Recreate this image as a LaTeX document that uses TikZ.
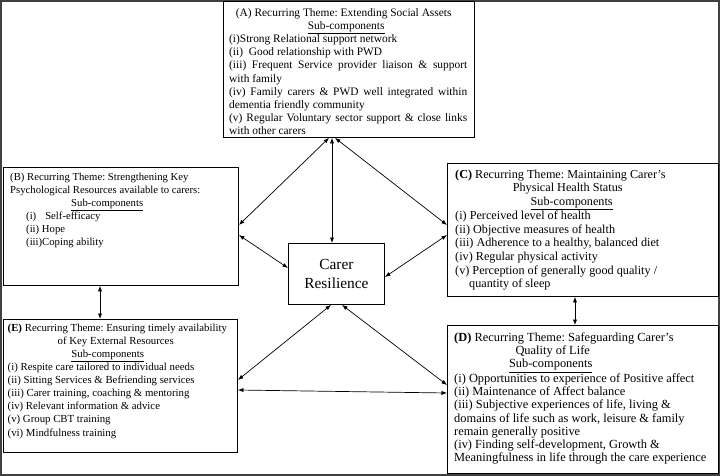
\documentclass[tikz,border=0pt]{standalone}
\usepackage{fontspec}
\setmainfont{Liberation Serif}
\usetikzlibrary{arrows.meta,calc}

\frenchspacing
\newcommand\subc{\underline{Sub-components}}
\newcommand\fullline[1]{\makebox[238pt][s]{#1}}
\newcommand\topline{\rule{0pt}{10pt}}

\tikzset{
  panel/.style={draw, line width=0.9pt, anchor=north west, inner sep=0pt},
  paneltext/.style={anchor=north west, inner sep=0pt, align=left},
  link/.style={line width=0.7pt, {Latex[length=5.5pt,width=4.2pt]}-{Latex[length=5.5pt,width=4.2pt]}}
}

\begin{document}
\begin{tikzpicture}[x=1pt, y=-1pt]

  \useasboundingbox (0,0) rectangle (720,476);
  \draw[line width=1.2pt, black!75] (1,1) rectangle (719,475); %% frame

  %% boxes
  \node[panel, minimum width=251pt, minimum height=136pt] (A) at (223,1) {};
  \node[panel, minimum width=235pt, minimum height=118pt] (B) at (3,167) {};
  \node[panel, minimum width=271pt, minimum height=133pt] (C) at (447,163) {};
  \node[panel, minimum width=271pt, minimum height=148pt] (D) at (447,325) {};
  \node[panel, minimum width=234pt, minimum height=133pt] (E) at (3,319) {};
  \node[panel, minimum width=96pt, minimum height=61pt, align=center,
    font=\fontsize{15.4}{19}\selectfont] (R) at (288,243) {Carer\\Resilience};

  %% box texts (first baseline 10pt below the anchor)
  \node[paneltext, font=\fontsize{11.4}{13.2}\selectfont] (Atext) at ($(A.north west)+(6,5)$)
  {\topline\makebox[229pt]{(A) Recurring Theme: Extending Social Assets}\\
   \makebox[234pt]{\subc}\\
   (i)Strong Relational support network\\
   (ii)\ \ Good relationship with PWD\\
   \fullline{(iii) Frequent Service provider liaison \& support}\\
   with family\\
   \fullline{(iv) Family carers \& PWD well integrated within}\\
   dementia friendly community\\
   \fullline{(v) Regular Voluntary sector support \& close links}\\
   with other carers};

  \node[paneltext, font=\fontsize{10.7}{13.1}\selectfont] (Btext) at ($(B.north west)+(7,3)$)
  {\topline(B) Recurring Theme: Strengthening Key\\
   Psychological Resources available to carers:\\
   \makebox[194pt]{\subc}\\
   \hspace*{16pt}(i)\hspace{9pt}Self-efficacy\\
   \hspace*{16pt}(ii) Hope\\
   \hspace*{16pt}(iii)Coping ability};

  \node[paneltext, font=\fontsize{12.2}{13.7}\selectfont] (Ctext) at ($(C.north west)+(8,5)$)
  {\topline\textbf{(C)} Recurring Theme: Maintaining Carer's\\
   \makebox[225pt]{Physical Health Status}\\
   \makebox[233pt]{\subc}\\
   (i) Perceived level of health\\
   (ii) Objective measures of health\\
   (iii) Adherence to a healthy, balanced diet\\
   (iv) Regular physical activity\\
   (v) Perception of generally good quality /\\
   \hspace*{14pt}quantity of sleep};

  \node[paneltext, font=\fontsize{12.4}{13.3}\selectfont] (Dtext) at ($(D.north west)+(7,6)$)
  {\topline\textbf{(D)} Recurring Theme: Safeguarding Carer's\\
   \makebox[197pt]{Quality of Life}\\
   \makebox[193pt]{\subc}\\
   (i) Opportunities to experience of Positive affect\\
   (ii) Maintenance of Affect balance\\
   (iii) Subjective experiences of life, living \&\\
   domains of life such as work, leisure \& family\\
   remain generally positive\\
   (iv) Finding self-development, Growth \&\\
   Meaningfulness in life through the care experience};

  \node[paneltext, font=\fontsize{10.8}{13.1}\selectfont] (Etext) at ($(E.north west)+(4.5,2)$)
  {\topline\textbf{(E)} Recurring Theme: Ensuring timely availability\\
   \makebox[216pt]{of Key External Resources}\\
   \makebox[200pt]{\subc}\\
   (i) Respite care tailored to individual needs\\
   (ii) Sitting Services \& Befriending services\\
   (iii) Carer training, coaching \& mentoring\\
   (iv) Relevant information \& advice\\
   (v) Group CBT training\\
   (vi) Mindfulness training};

  %% links
  \draw[link] ($(A.south west)+(109,0)$) -- ($(R.north west)+(44,0)$); %% A R
  \draw[link] ($(A.south west)+(106,0)$) -- ($(B.north east)+(0,58)$); %% A B
  \draw[link] ($(A.south west)+(112,0)$) -- ($(C.north west)+(0,62)$); %% A C
  \draw[link] ($(B.north east)+(0,68)$) -- ($(R.north west)+(0,25)$); %% B R
  \draw[link] ($(C.north west)+(0,72)$) -- ($(R.north east)+(0,34)$); %% C R
  \draw[link] ($(R.south west)+(43,0)$) -- ($(E.north east)+(0,61)$); %% R E
  \draw[link] ($(R.south west)+(54,0)$) -- ($(D.north west)+(0,60)$); %% R D
  \draw[link] ($(E.north east)+(0,71)$) -- ($(D.north west)+(0,68)$); %% E D
  \draw[link] ($(B.south west)+(97,0)$) -- ($(E.north west)+(97,0)$); %% B E
  \draw[link] ($(C.south west)+(128,0)$) -- ($(D.north west)+(128,0)$); %% C D

\end{tikzpicture}
\end{document}
